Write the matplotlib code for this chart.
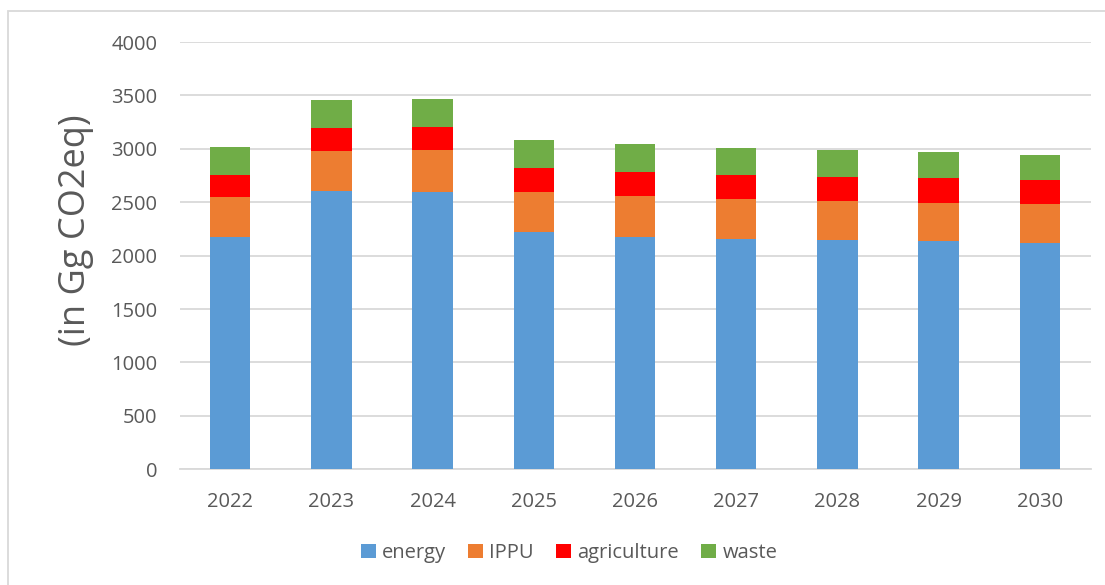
import numpy as np
import matplotlib.pyplot as plt
from matplotlib.patches import Rectangle

years = ['2022', '2023', '2024', '2025', '2026', '2027', '2028', '2029', '2030']
energy = [2174, 2605, 2598, 2217, 2179, 2155, 2146, 2136, 2123]
ippu = [375, 377, 391, 381, 382, 378, 368, 359, 363]
agriculture = [202, 213, 212, 219, 218, 218, 225, 228, 225]
waste = [266, 265, 269, 269, 266, 260, 253, 244, 234]

series = [energy, ippu, agriculture, waste]
names = ['energy', 'IPPU', 'agriculture', 'waste']
colors = ['#5B9BD5', '#ED7D31', '#FF0000', '#70AD47']

plt.rcParams['font.family'] = ['Open Sans', 'DejaVu Sans']
text_col = '#595959'

W, H = 1105, 585
fig = plt.figure(figsize=(W / 100, H / 100), dpi=100)
ax = fig.add_axes([179.5 / W, 1 - 469.3 / H, (1090.5 - 179.5) / W, (469.3 - 42) / H])

x = np.arange(len(years))
bottom = np.zeros(len(years))
for vals, name, col in zip(series, names, colors):
	ax.bar(x, vals, 0.4, bottom=bottom, color=col, label=name, zorder=3)
	bottom += np.array(vals)

ax.set_xlim(-0.5, len(years) - 0.5)
ax.set_ylim(0, 4000)
ax.set_yticks(np.arange(0, 4001, 500))
ax.set_xticks(x)
ax.set_xticklabels(years)
ax.grid(axis='y', color='#D9D9D9', linewidth=1.3, zorder=0)
for s in ['top', 'right', 'left']:
	ax.spines[s].set_visible(False)
ax.spines['bottom'].set_color('#D9D9D9')
ax.spines['bottom'].set_linewidth(1.3)
ax.tick_params(axis='both', length=0, labelsize=14.5, colors=text_col)
ax.tick_params(axis='y', pad=16)
ax.tick_params(axis='x', pad=16)

fig.text(76 / W, 1 - 230 / H, '(in Gg CO2eq)', rotation=90, fontsize=26,
	color=text_col, ha='center', va='center')

fig.legend(loc='center', bbox_to_anchor=(0.515, 1 - 553 / H), ncol=4, frameon=False,
	fontsize=14.5, labelcolor=text_col, handlelength=0.75, handleheight=0.75,
	handletextpad=0.3, columnspacing=1.1)

fig.patches.append(Rectangle((8 / W, -0.1), 1.2, 1 - 11 / H + 0.1,
	transform=fig.transFigure, fill=False, edgecolor='#D9D9D9', linewidth=1.3))

fig.savefig('out.png', dpi=100)
